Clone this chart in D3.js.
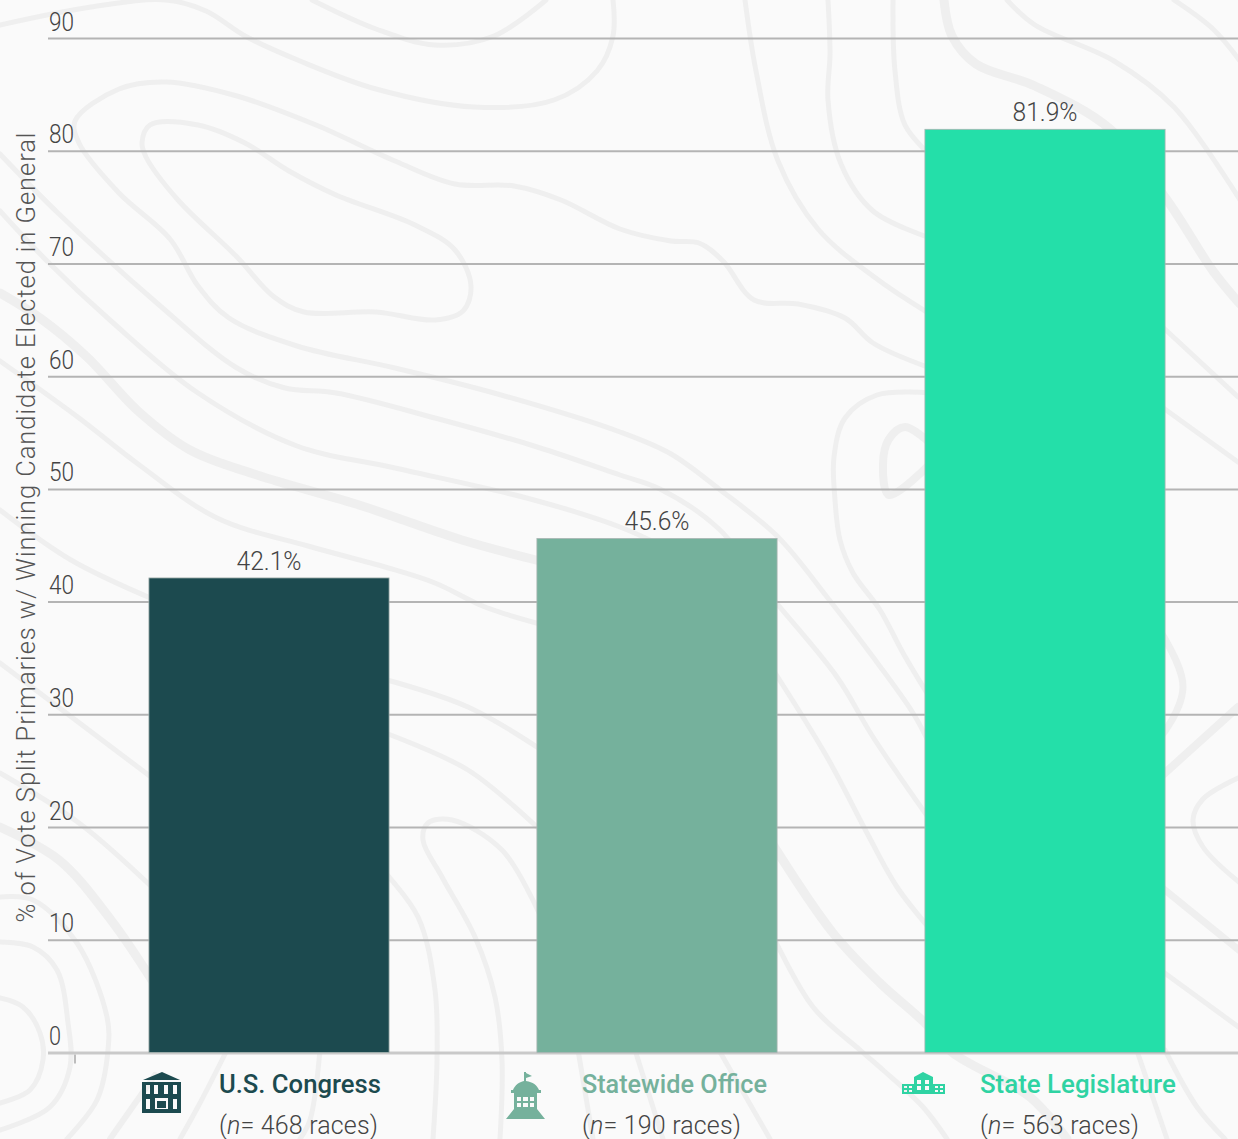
<!DOCTYPE html>
<html lang="en">
<head>
<meta charset="utf-8">
<title>Split primaries and general election winners</title>
<script src="https://cdn.jsdelivr.net/npm/d3@7"></script>
<style>
  html, body { margin: 0; padding: 0; background: #fafafa; }
  svg { display: block; font-family: Roboto, "Open Sans", sans-serif; }
</style>
</head>
<body>
<svg id="chart" width="1238" height="1139"></svg>
<script>
// Chart values
const categories = ["U.S. Congress", "Statewide Office", "State Legislature"];
const values = [42.1, 45.6, 81.9];
const raceCounts = [468, 190, 563];
const yTicks = [0, 10, 20, 30, 40, 50, 60, 70, 80, 90];
const yTitle = "% of Vote Split Primaries w/ Winning Candidate Elected in General";

// Bar and label colours, one per category
const barColors = ["#1c4a4f", "#75b19c", "#24dfa9"];
const nameColors = ["#1c4a4f", "#75b19c", "#2fd3a3"];

// Category label layout, measured from each bar's left edge
const nameOffsets = [70, 45, 55];
const nameWidths = [162, 185, 196];
const countWidths = [159, 159, 159];

// Topographic backdrop: [stroke width, closed?, points]
const contours = [
  [5, false, [[0,25],[91,7],[166,0],[206,11],[245,36],[300,61],[376,89],[474,107],[554,100],[597,71],[613,36],[613,0]]],
  [5, false, [[312,0],[376,29],[435,45],[494,36],[546,0]]],
  [5, false, [[930,368],[873,343],[845,318],[798,304],[754,300],[723,261],[699,243],[671,241],[620,229],[561,200],[514,186],[455,184],[395,161],[316,125],[237,96],[166,82],[119,89],[75,121],[79,143],[119,193],[170,239],[198,286],[229,318],[297,346],[395,368],[494,393],[620,432],[671,454],[719,489],[778,537],[827,597],[873,657],[913,713],[930,745]]],
  [5, true,  [[142,143],[150,125],[198,125],[245,143],[289,171],[336,195],[415,225],[455,250],[471,286],[463,311],[435,320],[376,312],[304,312],[273,296],[237,257],[178,200],[146,157]]],
  [5, false, [[0,154],[59,214],[158,304],[237,368],[285,388],[336,393],[435,418],[534,446],[620,475],[660,489],[719,529],[770,595],[837,677],[873,737],[930,820]]],
  [9, false, [[0,293],[40,318],[87,357],[138,411],[190,450],[257,475],[356,504],[462,540],[540,561]]],
  [5, false, [[0,211],[47,261],[111,321],[198,393],[297,446],[395,468],[534,500],[620,527],[660,545]]],
  [5, false, [[770,665],[827,757],[867,833],[897,887],[930,929]]],
  [5, false, [[0,361],[79,418],[138,464],[217,518],[308,546],[385,567],[435,583],[485,607],[540,624]]],
  [5, false, [[0,510],[71,560],[155,600]]],
  [5, false, [[380,678],[468,707],[540,749]]],
  [5, false, [[0,663],[155,780]]],
  [5, false, [[380,731],[468,770],[540,830]]],
  [5, false, [[0,773],[79,823],[155,890]]],
  [5, false, [[380,867],[418,917],[435,990],[437,1060],[433,1139]]],
  [9, false, [[0,827],[59,860],[111,920],[155,985]]],
  [6, false, [[155,1075],[110,1139]]],
  [5, false, [[0,897],[33,900],[77,943],[107,1017],[108,1050],[97,1100],[67,1139]]],
  [5, false, [[0,942],[33,947],[57,970],[68,1023],[70,1067],[50,1107],[0,1130]]],
  [5, false, [[0,998],[23,1007],[40,1033],[43,1060],[30,1090],[0,1103]]],
  [5, false, [[540,915],[502,850],[452,820],[428,823],[423,840],[442,877],[475,937],[495,997],[502,1060],[500,1139]]],
  [5, false, [[227,1050],[200,1103],[180,1139]]],
  [5, false, [[320,1050],[310,1120],[300,1139]]],
  [5, false, [[745,0],[756,71],[778,161],[818,229],[877,279],[930,314]]],
  [5, false, [[828,0],[830,54],[828,100],[841,164],[873,211],[930,238]]],
  [5, false, [[893,0],[895,71],[905,125],[930,155]]],
  [9, false, [[944,0],[952,36],[976,64],[1035,86],[1110,129],[1167,200],[1213,271],[1240,304]]],
  [5, false, [[1007,0],[1035,25],[1114,61],[1174,107],[1240,200]]],
  [5, false, [[1174,0],[1213,29],[1240,61]]],
  [5, false, [[1155,320],[1238,397]]],
  [5, false, [[1155,402],[1238,462]]],
  [5, false, [[930,393],[877,395],[845,418],[834,457],[835,500],[840,540],[853,573],[880,610],[903,653],[930,698]]],
  [8, false, [[930,443],[905,427],[889,439],[883,464],[889,495],[930,464]]],
  [7, false, [[1150,620],[1165,639],[1183,687],[1165,731],[1150,745]]],
  [8, false, [[1155,782],[1238,707]]],
  [5, false, [[1240,777],[1203,799],[1193,820],[1203,847],[1240,883]]],
  [7, false, [[1155,882],[1240,951]]],
  [5, false, [[1155,966],[1240,1028]]],
  [9, false, [[770,840],[833,933],[880,983],[925,1023],[953,1053],[1030,1097],[1067,1139]]],
  [5, false, [[770,930],[813,1007],[860,1050],[883,1070],[923,1107],[947,1139]]],
  [5, false, [[578,1050],[593,1139]]],
  [5, false, [[635,1050],[663,1139]]],
  [5, false, [[716,1045],[770,1139]]],
  [5, false, [[1135,1045],[1167,1139]]],
  [5, false, [[1165,1050],[1197,1107],[1225,1139]]]
];

// Building glyphs, drawn in a local box and placed beside each category name
const icons = [
  { x: 142, y: 1072, path: "M1 8L20 0L38 8ZM0 10H39V41H0ZM4 13V22H8V13ZM12 13V22H16V13ZM22 13V22H26V13ZM31 13V22H35V13ZM4 27V37H8V27ZM31 27V37H35V27ZM13 26V37H26V26ZM15 29H24V36H15Z" },
  { x: 506, y: 1072, path: "M18 0H20V1L26 4L20 6V9C27 10 31 13 33 18H35V21H31V37L39 47H0L8 37V21H5V18H7C9 13 13 10 18 9ZM11 25V29H15V25ZM17 25V29H22V25ZM24 25V29H28V25ZM11 31V35H15V31ZM17 31V35H22V31ZM24 31V35H28V31Z" },
  { x: 902, y: 1072, path: "M12 5L21 0L31 5V12H43V22H0V12H12ZM2 14V16H5V14ZM7 14V16H10V14ZM2 18V20H5V18ZM7 18V20H10V18ZM15 8V12H19V8ZM23 8V12H27V8ZM15 14V18H19V14ZM23 14V18H27V14ZM33 14V16H36V14ZM38 14V16H41V14ZM33 18V20H36V18ZM38 18V20H41V18Z" }
];

const width = 1238;
const svg = d3.select("#chart");

const x = d3.scaleBand().domain(categories).range([75, 1239]).paddingInner(0.381).paddingOuter(0.1905);
const y = d3.scaleLinear().domain([0, 90]).range([1052.5, 38]);

svg.append("rect").attr("width", width).attr("height", 1139).attr("fill", "#fafafa");

// Contour backdrop
const openLine = d3.line().curve(d3.curveCatmullRom.alpha(0.5));
const closedLine = d3.line().curve(d3.curveCatmullRomClosed.alpha(0.5));
svg.append("g").attr("fill", "none").attr("stroke", "#efefef").attr("stroke-linecap", "round")
  .selectAll("path").data(contours).join("path")
  .attr("stroke-width", d => d[0])
  .attr("d", d => (d[1] ? closedLine : openLine)(d[2]));

// Horizontal gridlines with their labels sitting on top of each line
const yAxis = svg.append("g").attr("transform", "translate(48,0)")
  .call(d3.axisRight(y).tickValues(yTicks).tickSize(width - 48).tickPadding(0));
yAxis.select(".domain").remove();
yAxis.selectAll(".tick line").attr("stroke", "#b4b4b4").attr("stroke-width", 2)
  .filter(d => d === 0).attr("stroke", "#c9c9c9").attr("stroke-width", 3);
yAxis.selectAll(".tick text")
  .attr("x", 1).attr("y", -8).attr("dy", 0)
  .attr("text-anchor", "start")
  .attr("fill", "#444").attr("font-size", 26).attr("font-weight", 300)
  .attr("font-family", "Roboto, sans-serif").attr("textLength", d => d === 0 ? 12 : 25)
  .attr("lengthAdjust", "spacingAndGlyphs");

// Short tick where the category axis begins
svg.append("line")
  .attr("x1", x.range()[0]).attr("x2", x.range()[0])
  .attr("y1", y(0) + 2).attr("y2", y(0) + 11)
  .attr("stroke", "#bdbdbd").attr("stroke-width", 2);

// Bars
svg.append("g").selectAll("rect").data(categories).join("rect")
  .attr("x", d => x(d))
  .attr("y", (d, i) => y(values[i]))
  .attr("width", x.bandwidth())
  .attr("height", (d, i) => y(0) - y(values[i]))
  .attr("fill", (d, i) => barColors[i])
  .attr("stroke", "#a9b5b2").attr("stroke-width", 0.8);

// Value labels above the bars
svg.append("g").selectAll("text").data(categories).join("text")
  .attr("x", d => x(d) + x.bandwidth() / 2)
  .attr("y", (d, i) => y(values[i]) - 8)
  .attr("text-anchor", "middle")
  .attr("fill", "#444").attr("font-size", 26).attr("font-weight", 300)
  .attr("textLength", 65).attr("lengthAdjust", "spacingAndGlyphs")
  .text((d, i) => values[i].toFixed(1) + "%");

// Vertical axis title, opened up with letter spacing
svg.append("text")
  .attr("transform", "translate(35,527.5) rotate(-90)")
  .attr("text-anchor", "middle")
  .attr("fill", "#555").attr("font-size", 25.5).attr("font-weight", 300)
  .attr("textLength", 790).attr("lengthAdjust", "spacing")
  .text(yTitle);

// Category names and race counts
const labels = svg.append("g").selectAll("g").data(categories).join("g")
  .attr("transform", (d, i) => `translate(${x(d) + nameOffsets[i]},0)`);
labels.append("text")
  .attr("y", 1093)
  .attr("fill", (d, i) => nameColors[i])
  .attr("font-size", 26).attr("font-weight", 500)
  .attr("textLength", (d, i) => nameWidths[i]).attr("lengthAdjust", "spacingAndGlyphs")
  .text(d => d);
const counts = labels.append("text")
  .attr("y", 1134)
  .attr("fill", "#444").attr("font-size", 25).attr("font-weight", 300)
  .attr("textLength", (d, i) => countWidths[i]).attr("lengthAdjust", "spacing");
counts.append("tspan").text("(");
counts.append("tspan").attr("font-style", "italic").text("n");
counts.append("tspan").text((d, i) => `= ${raceCounts[i]} races)`);

// Building glyphs
svg.append("g").selectAll("path").data(icons).join("path")
  .attr("transform", d => `translate(${d.x},${d.y})`)
  .attr("fill-rule", "evenodd")
  .attr("fill", (d, i) => nameColors[i])
  .attr("d", d => d.path);
</script>
</body>
</html>
